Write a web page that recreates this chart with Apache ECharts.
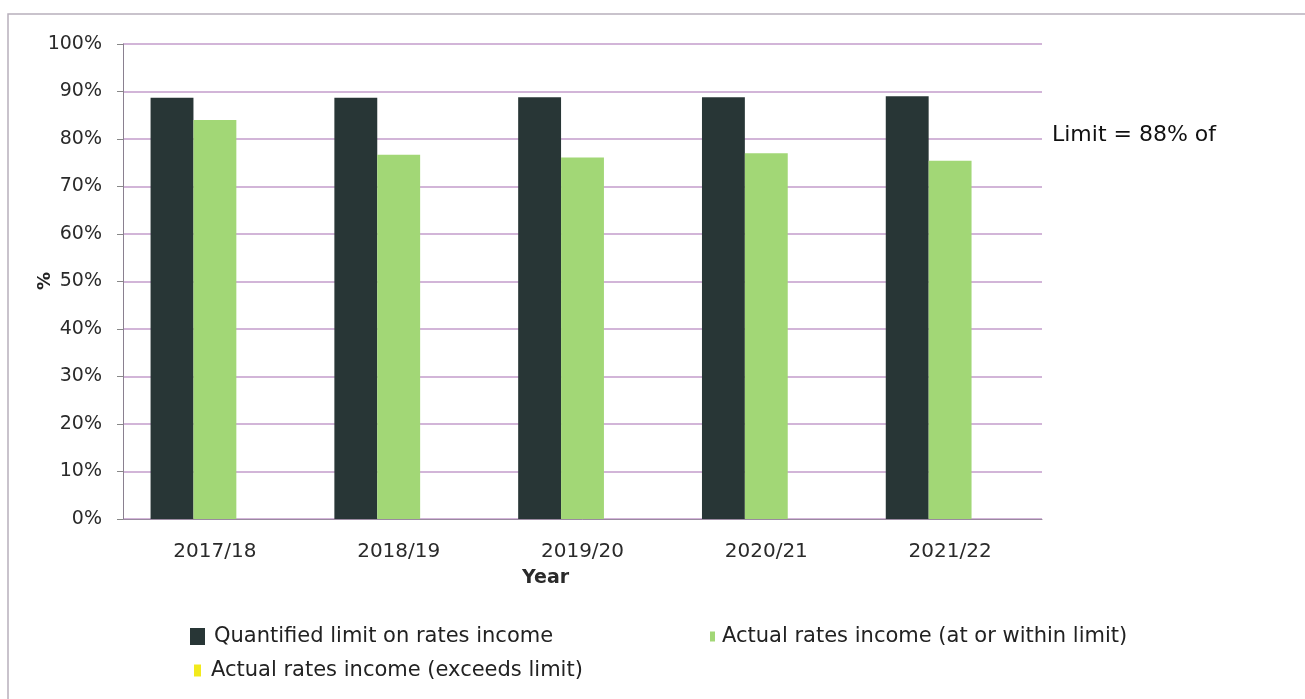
<!DOCTYPE html>
<html>
<head>
<meta charset="utf-8">
<script src="https://cdn.jsdelivr.net/npm/echarts@6/dist/echarts.min.js"></script>
<style>
    html,body{margin:0;padding:0;background:#fff}
    #chart{width:1305px;height:699px}
</style>
</head>
<body>
<div id="chart"></div>
<script>
    var years = ['2017/18', '2018/19', '2019/20', '2020/21', '2021/22'];
    var limitValues = [88.7, 88.7, 88.8, 88.8, 89.0];
    var withinValues = [84.0, 76.7, 76.1, 77.0, 75.4];
    var exceedsValues = [null, null, null, null, null];
    var yTicks = [0, 10, 20, 30, 40, 50, 60, 70, 80, 90, 100];

    var font = 'DejaVu Sans';
    var chart = echarts.init(document.getElementById('chart'));

    var option = {
        animation: false,
        textStyle: {fontFamily: font},
        grid: {left: 123, right: 263, top: 44, bottom: 180},
        legend: [
            {
                left: 185, top: 621, icon: 'rect', itemWidth: 15, itemHeight: 17,
                textStyle: {fontSize: 21, color: '#222', fontFamily: font, padding: [0, 0, 0, 4]},
                data: ['Quantified limit on rates income']
            },
            {
                left: 705, top: 621, icon: 'rect', itemWidth: 5, itemHeight: 10,
                textStyle: {fontSize: 21, color: '#222', fontFamily: font, padding: [0, 0, 0, 2]},
                data: ['Actual rates income (at or within limit)']
            },
            {
                left: 189, top: 655, icon: 'rect', itemWidth: 7, itemHeight: 12,
                textStyle: {fontSize: 21, color: '#222', fontFamily: font, padding: [0, 0, 0, 5]},
                data: ['Actual rates income (exceeds limit)']
            }
        ],
        xAxis: {
            type: 'category',
            data: years,
            axisLine: {lineStyle: {color: '#9a8aa0'}},
            axisTick: {length: 6, lineStyle: {color: '#888'}},
            axisLabel: {fontSize: 20, color: '#2a2a2a', margin: 23}
        },
        yAxis: {
            type: 'value',
            min: yTicks[0],
            max: yTicks[yTicks.length - 1],
            interval: 10,
            axisLine: {show: true, lineStyle: {color: '#8a8090'}},
            axisTick: {show: true, length: 6, lineStyle: {color: '#888'}},
            axisLabel: {fontSize: 19, color: '#2a2a2a', margin: 21, formatter: '{value}%'},
            splitLine: {lineStyle: {color: '#c39ccb', width: 1.5}}
        },
        series: [
            {
                name: 'Quantified limit on rates income',
                type: 'bar',
                data: limitValues,
                barGap: '0%',
                barCategoryGap: '30%',
                itemStyle: {color: '#283636'}
            },
            {
                name: 'Actual rates income (at or within limit)',
                type: 'bar',
                data: withinValues,
                itemStyle: {color: '#a2d776'}
            },
            {
                name: 'Actual rates income (exceeds limit)',
                type: 'bar',
                data: exceedsValues,
                itemStyle: {color: '#f2ea1c'}
            }
        ],
        graphic: [
            {
                type: 'rect',
                shape: {x: 8, y: 14, width: 1300, height: 700},
                style: {fill: 'none', stroke: '#b8b0bc', lineWidth: 1.5},
                silent: true
            },
            {
                type: 'text',
                x: 45, y: 281, rotation: Math.PI / 2,
                style: {text: '%', fill: '#222', font: 'bold 18px DejaVu Sans', align: 'center', verticalAlign: 'middle'}
            },
            {
                type: 'text',
                left: 522, top: 569,
                style: {text: 'Year', fill: '#2a2a2a', font: 'bold 19px DejaVu Sans'}
            },
            {
                type: 'text',
                left: 1052, top: 124,
                style: {text: 'Limit = 88% of', fill: '#111', font: '22px DejaVu Sans'}
            }
        ]
    };

    chart.setOption(option);
    window.onresize = function () {
        chart.resize();
    };
</script>
</body>
</html>
